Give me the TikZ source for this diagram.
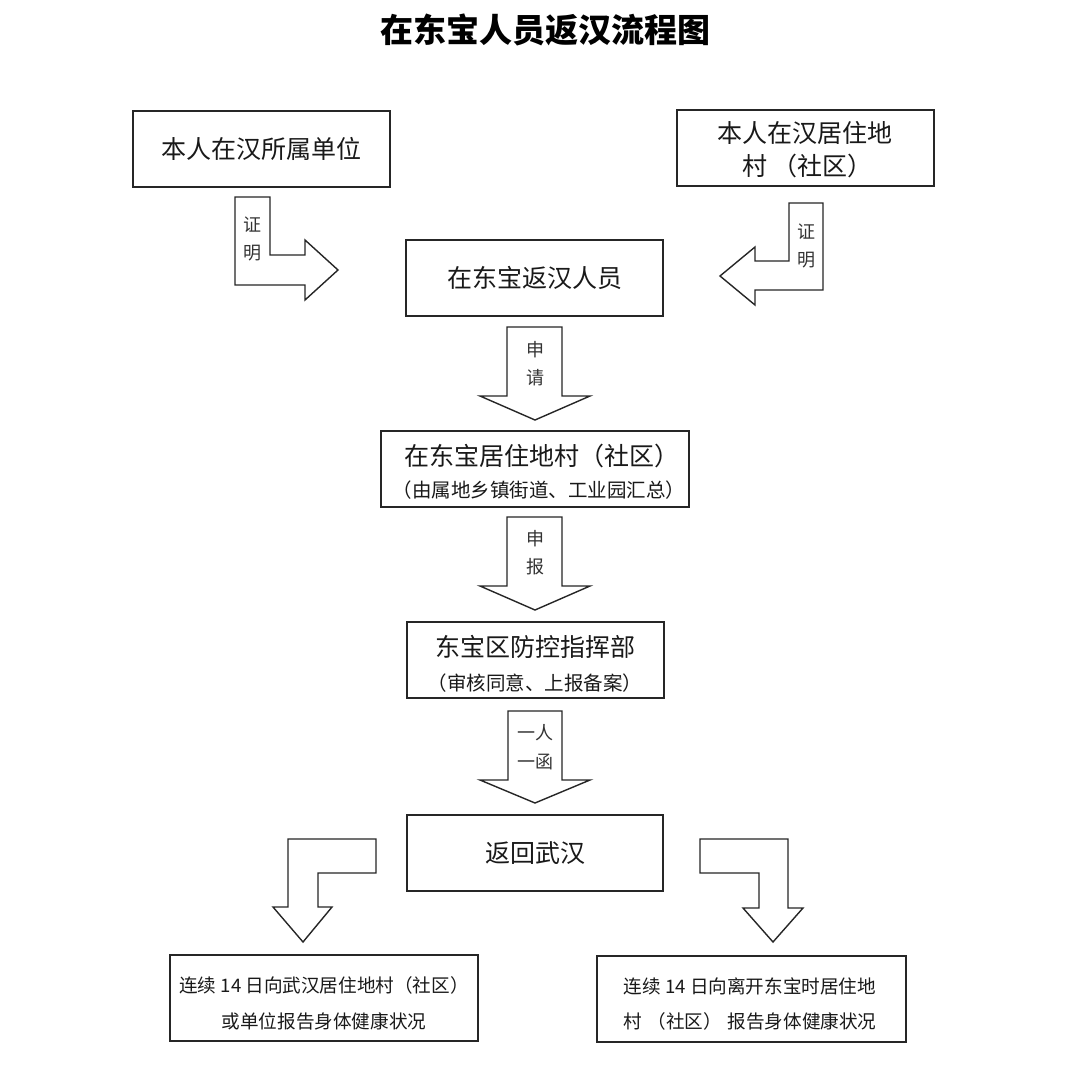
\documentclass[tikz,border=0pt]{standalone}
\usepackage{fontspec}
\newfontfamily\cjk{Noto Sans CJK SC}
\begin{document}
\begin{tikzpicture}[x=1pt,y=-1pt,
  box/.style={draw=black!85, line width=1.5pt, rectangle, inner sep=0pt, fill=white},
  blockarrow/.style={draw=black!85, line width=1.4pt, line join=miter, fill=white},
  maintext/.style={font=\cjk\fontsize{25}{30}\selectfont, text=black!90, inner sep=0pt},
  subtext/.style={font=\cjk\fontsize{19.5}{24}\selectfont, text=black!90, inner sep=0pt},
  smalltext/.style={font=\cjk\fontsize{18.6}{24}\selectfont, text=black!90, inner sep=0pt},
  lbl/.style={font=\cjk\fontsize{18}{22}\selectfont, text=black!80, inner sep=0pt}]
\useasboundingbox (0,0) rectangle (1080,1089);
\fill[white] (0,0) rectangle (1080,1089);

% title
\node[font=\cjk\bfseries\fontsize{33}{38}\selectfont, inner sep=0pt] (title) at (545,30) {在东宝人员返汉流程图};

% boxes
\node[box, minimum width=257pt, minimum height=76pt, maintext] (unit) at (261.5,149) {本人在汉所属单位};
\node[box, minimum width=257pt, minimum height=76pt] (res) at (805.5,148) {};
\node[maintext, anchor=west] (resA) at (717,133) {本人在汉居住地};
\node[maintext, anchor=west] (resB) at (742,166) {村\hspace{0.2em}（社区）};
\node[box, minimum width=257pt, minimum height=76pt, maintext] (person) at (534.5,278) {在东宝返汉人员};
\node[box, minimum width=308pt, minimum height=76pt] (village) at (535,469) {};
\node[maintext] (villageA) at (542,456) {在东宝居住地村（社区）};
\node[subtext] (villageB) at (539,490) {（由属地乡镇街道、工业园汇总）};
\node[box, minimum width=257pt, minimum height=76pt] (hq) at (535.5,660) {};
\node[maintext] (hqA) at (535,647) {东宝区防控指挥部};
\node[subtext] (hqB) at (535,683) {（审核同意、上报备案）};
\node[box, minimum width=256pt, minimum height=76pt, maintext] (back) at (535,853) {返回武汉};
\node[box, minimum width=308pt, minimum height=86pt] (repL) at (324,998) {};
\node[smalltext] (repLA) at (324,985) {连续 14 日向武汉居住地村（社区）};
\node[smalltext] (repLB) at (324,1021) {或单位报告身体健康状况};
\node[box, minimum width=309pt, minimum height=86pt] (repR) at (751.5,999) {};
\node[smalltext] (repRA) at (750,986) {连续 14 日向离开东宝时居住地};
\node[smalltext] (repRB) at (750,1021) {村\hspace{0.3em}（社区）\hspace{0.3em}报告身体健康状况};

% block arrows
\draw[blockarrow] (235,197) -- (270,197) -- (270,255) -- (305,255) -- (305,240) -- (338,270) -- (305,300) -- (305,285) -- (235,285) -- cycle;
\node[lbl] (a1a) at (252,225) {证};
\node[lbl] (a1b) at (252,253) {明};

\draw[blockarrow] (789,203) -- (823,203) -- (823,290) -- (755,290) -- (755,305) -- (720,276) -- (755,247) -- (755,261) -- (789,261) -- cycle;
\node[lbl] (a2a) at (806,232) {证};
\node[lbl] (a2b) at (806,260) {明};

\draw[blockarrow] (507,327) -- (562,327) -- (562,396) -- (590,396) -- (535,420) -- (480,396) -- (507,396) -- cycle;
\node[lbl] (a3a) at (535,350) {申};
\node[lbl] (a3b) at (535,378) {请};

\draw[blockarrow] (507,517) -- (562,517) -- (562,586) -- (590,586) -- (535,610) -- (480,586) -- (507,586) -- cycle;
\node[lbl] (a4a) at (535,539) {申};
\node[lbl] (a4b) at (535,567) {报};

\draw[blockarrow] (508,711) -- (562,711) -- (562,780) -- (590,780) -- (535,803) -- (480,780) -- (508,780) -- cycle;
\node[lbl] (a5a) at (535,733) {一人};
\node[lbl] (a5b) at (535,762) {一函};

\draw[blockarrow] (288,839) -- (376,839) -- (376,873) -- (318,873) -- (318,907) -- (332,907) -- (303,942) -- (273,907) -- (288,907) -- cycle;
\draw[blockarrow] (700,839) -- (788,839) -- (788,908) -- (803,908) -- (773,942) -- (743,908) -- (759,908) -- (759,873) -- (700,873) -- cycle;
\end{tikzpicture}
\end{document}
